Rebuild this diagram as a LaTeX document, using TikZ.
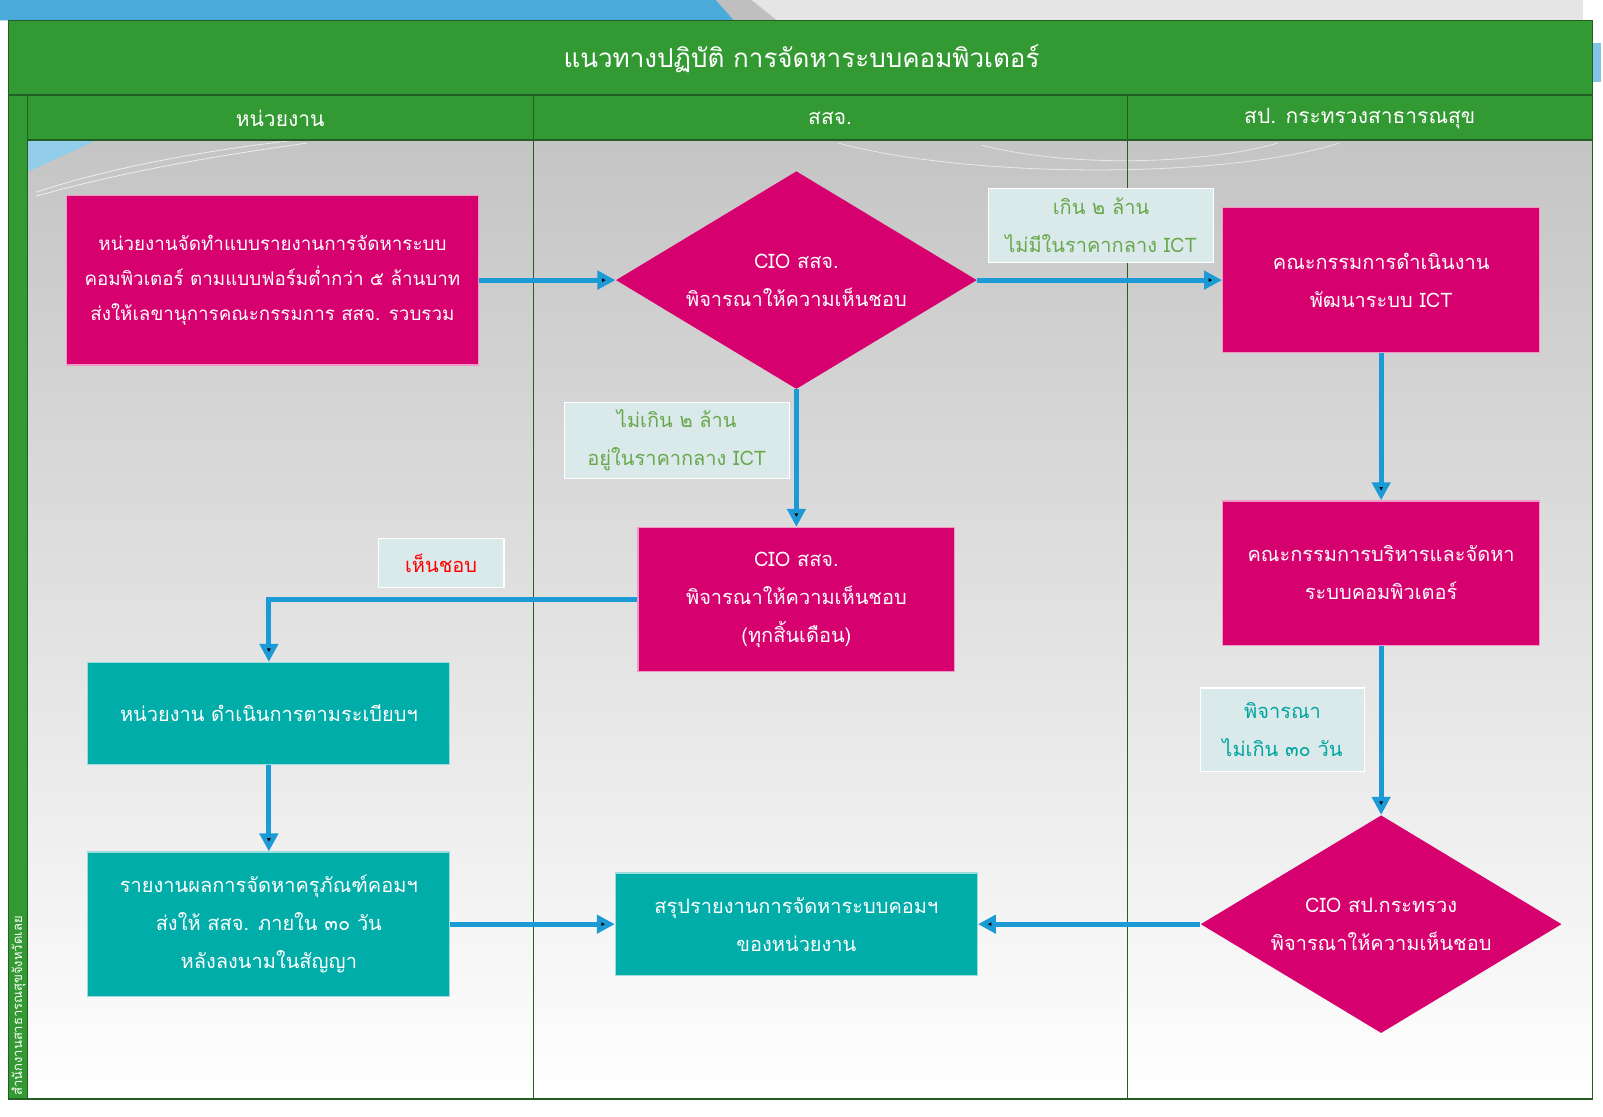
\documentclass[tikz,border=0pt]{standalone}
\usepackage{fontspec}
\setmainfont[Script=Thai]{Loma}
\usetikzlibrary{shapes.geometric,arrows.meta}
\definecolor{mag}{RGB}{214,0,111}
\definecolor{tl}{RGB}{0,173,169}
\definecolor{hd}{RGB}{51,153,51}
\definecolor{ln}{RGB}{35,95,35}
\definecolor{ar}{RGB}{27,154,214}
\definecolor{nt}{RGB}{218,233,233}
\definecolor{gr}{RGB}{106,168,79}
\definecolor{sky}{RGB}{74,171,219}

\begin{document}
\begin{tikzpicture}[x=0.5112pt, y=-0.5112pt,
	main/.style = {rectangle, fill=mag, draw=white!60!mag, line width=0.6pt, text=white, align=center, inner sep=0pt, font=\fontsize{10}{19}\selectfont},
	dec/.style = {diamond, shape aspect=1.66, fill=mag, text=white, align=center, inner sep=0pt, minimum width=180.5pt, minimum height=108.9pt, font=\fontsize{10}{19}\selectfont},
	act/.style = {main, fill=tl, draw=white!60!tl},
	note/.style = {rectangle, fill=nt, draw=white, line width=0.6pt, align=center, inner sep=0pt, font=\fontsize{10}{19}\selectfont},
	edge/.style = {-{Triangle[length=9pt,width=9pt]}, draw=ar, line width=2.4pt}]

	% background
	\useasboundingbox (0,0) rectangle (1568,1092);
	\fill[white] (0,0) rectangle (1568,1092);
	\fill[black!10] (735,0) rectangle (1548,20);
	\fill[black!25] (700,0) -- (735,0) -- (760,20) -- (718,20) -- cycle;
	\fill[sky] (0,0) -- (700,0) -- (718,20) -- (0,20) -- cycle;
	\fill[sky!70] (1558,42) rectangle (1566,80);
	\shade[top color=black!23, bottom color=white] (27,137) rectangle (1558,1075);
	\fill[sky!60] (27,137) -- (95,137) -- (27,168) -- cycle;
	\draw[white, opacity=0.7] (35,188) .. controls (120,160) and (220,145) .. (290,137);
	\draw[white, opacity=0.7] (35,192) .. controls (130,165) and (230,150) .. (300,140);
	\draw[white, opacity=0.6] (820,140) .. controls (950,175) and (1200,175) .. (1310,140);
	\draw[white, opacity=0.6] (960,142) .. controls (1050,165) and (1180,160) .. (1250,140);

	% frame and lanes
	\fill[hd] (8,20) rectangle (1558,93);
	\fill[hd] (8,93) rectangle (1558,137);
	\fill[hd] (8,137) rectangle (27,1075);
	\draw[ln, line width=0.6pt] (8,20) rectangle (1558,1075);
	\draw[ln, line width=0.6pt] (8,93) -- (1558,93);
	\draw[ln, line width=0.6pt] (27,137) -- (1558,137);
	\draw[ln, line width=0.5pt] (27,93) -- (27,1075);
	\draw[ln, line width=0.5pt] (522,93) -- (522,1075);
	\draw[ln, line width=0.5pt] (1103,93) -- (1103,1075);

	\node[text=white, font=\fontsize{13}{16}\selectfont] (t) at (784,57) {แนวทางปฏิบัติ การจัดหาระบบคอมพิวเตอร์};
	\node[text=white, font=\fontsize{10.5}{13}\selectfont] (h1) at (274,116) {หน่วยงาน};
	\node[text=white, font=\fontsize{10.5}{13}\selectfont] (h2) at (812,116) {สสจ.};
	\node[text=white, font=\fontsize{10.5}{13}\selectfont] (h3) at (1330,116) {สป. กระทรวงสาธารณสุข};
	\node[text=white, rotate=90, anchor=west, inner sep=0pt, font=\fontsize{6.5}{8}\selectfont] (s) at (18,1072) {สำนักงานสาธารณสุขจังหวัดเลย};

	% steps
	\node[main, minimum width=206pt, minimum height=84.9pt, font=\fontsize{9.4}{17.4}\selectfont] (1) at (266.5,274) {หน่วยงานจัดทำแบบรายงานการจัดหาระบบ\\คอมพิวเตอร์ ตามแบบฟอร์มต่ำกว่า ๕ ล้านบาท\\ส่งให้เลขานุการคณะกรรมการ สสจ. รวบรวม};
	\node[dec] (2) at (779,274) {CIO สสจ.\\พิจารณาให้ความเห็นชอบ};
	\node[main, minimum width=158.5pt, minimum height=72.6pt] (3) at (1351,274) {คณะกรรมการดำเนินงาน\\พัฒนาระบบ ICT};
	\node[main, minimum width=158.5pt, minimum height=72.1pt] (4) at (779,586.5) {CIO สสจ.\\พิจารณาให้ความเห็นชอบ\\(ทุกสิ้นเดือน)};
	\node[main, minimum width=158.5pt, minimum height=72.1pt] (5) at (1351,560.5) {คณะกรรมการบริหารและจัดหา\\ระบบคอมพิวเตอร์};
	\node[act, minimum width=181pt, minimum height=51.1pt] (6) at (263,698) {หน่วยงาน ดำเนินการตามระเบียบฯ};
	\node[act, minimum width=181pt, minimum height=72.1pt] (7) at (263,904) {รายงานผลการจัดหาครุภัณฑ์คอมฯ\\ส่งให้ สสจ. ภายใน ๓๐ วัน\\หลังลงนามในสัญญา};
	\node[act, minimum width=181pt, minimum height=51.1pt] (8) at (779,904) {สรุปรายงานการจัดหาระบบคอมฯ\\ของหน่วยงาน};
	\node[dec] (9) at (1351,904) {CIO สป.กระทรวง\\พิจารณาให้ความเห็นชอบ};

	% notes
	\node[note, text=gr, minimum width=112.5pt, minimum height=37.3pt] (n1) at (1077,220.5) {เกิน ๒ ล้าน\\ไม่มีในราคากลาง ICT};
	\node[note, text=gr, minimum width=112.5pt, minimum height=37.8pt] (n2) at (662,431) {ไม่เกิน ๒ ล้าน\\อยู่ในราคากลาง ICT};
	\node[note, text=red, minimum width=62.9pt, minimum height=24.5pt] (n3) at (431.5,551) {เห็นชอบ};
	\node[note, text=tl!95!black, minimum width=82.3pt, minimum height=41.9pt] (n4) at (1254.5,714) {พิจารณา\\ไม่เกิน ๓๐ วัน};

	\path[edge]
	(1) edge (2)
	(2) edge (3)
	(2) edge (4)
	(4) edge[to path={-| (\tikztotarget)}] (6)
	(3) edge (5)
	(5) edge (9)
	(6) edge (7)
	(7) edge (8)
	(9) edge (8);

	\end{tikzpicture}
\end{document}
